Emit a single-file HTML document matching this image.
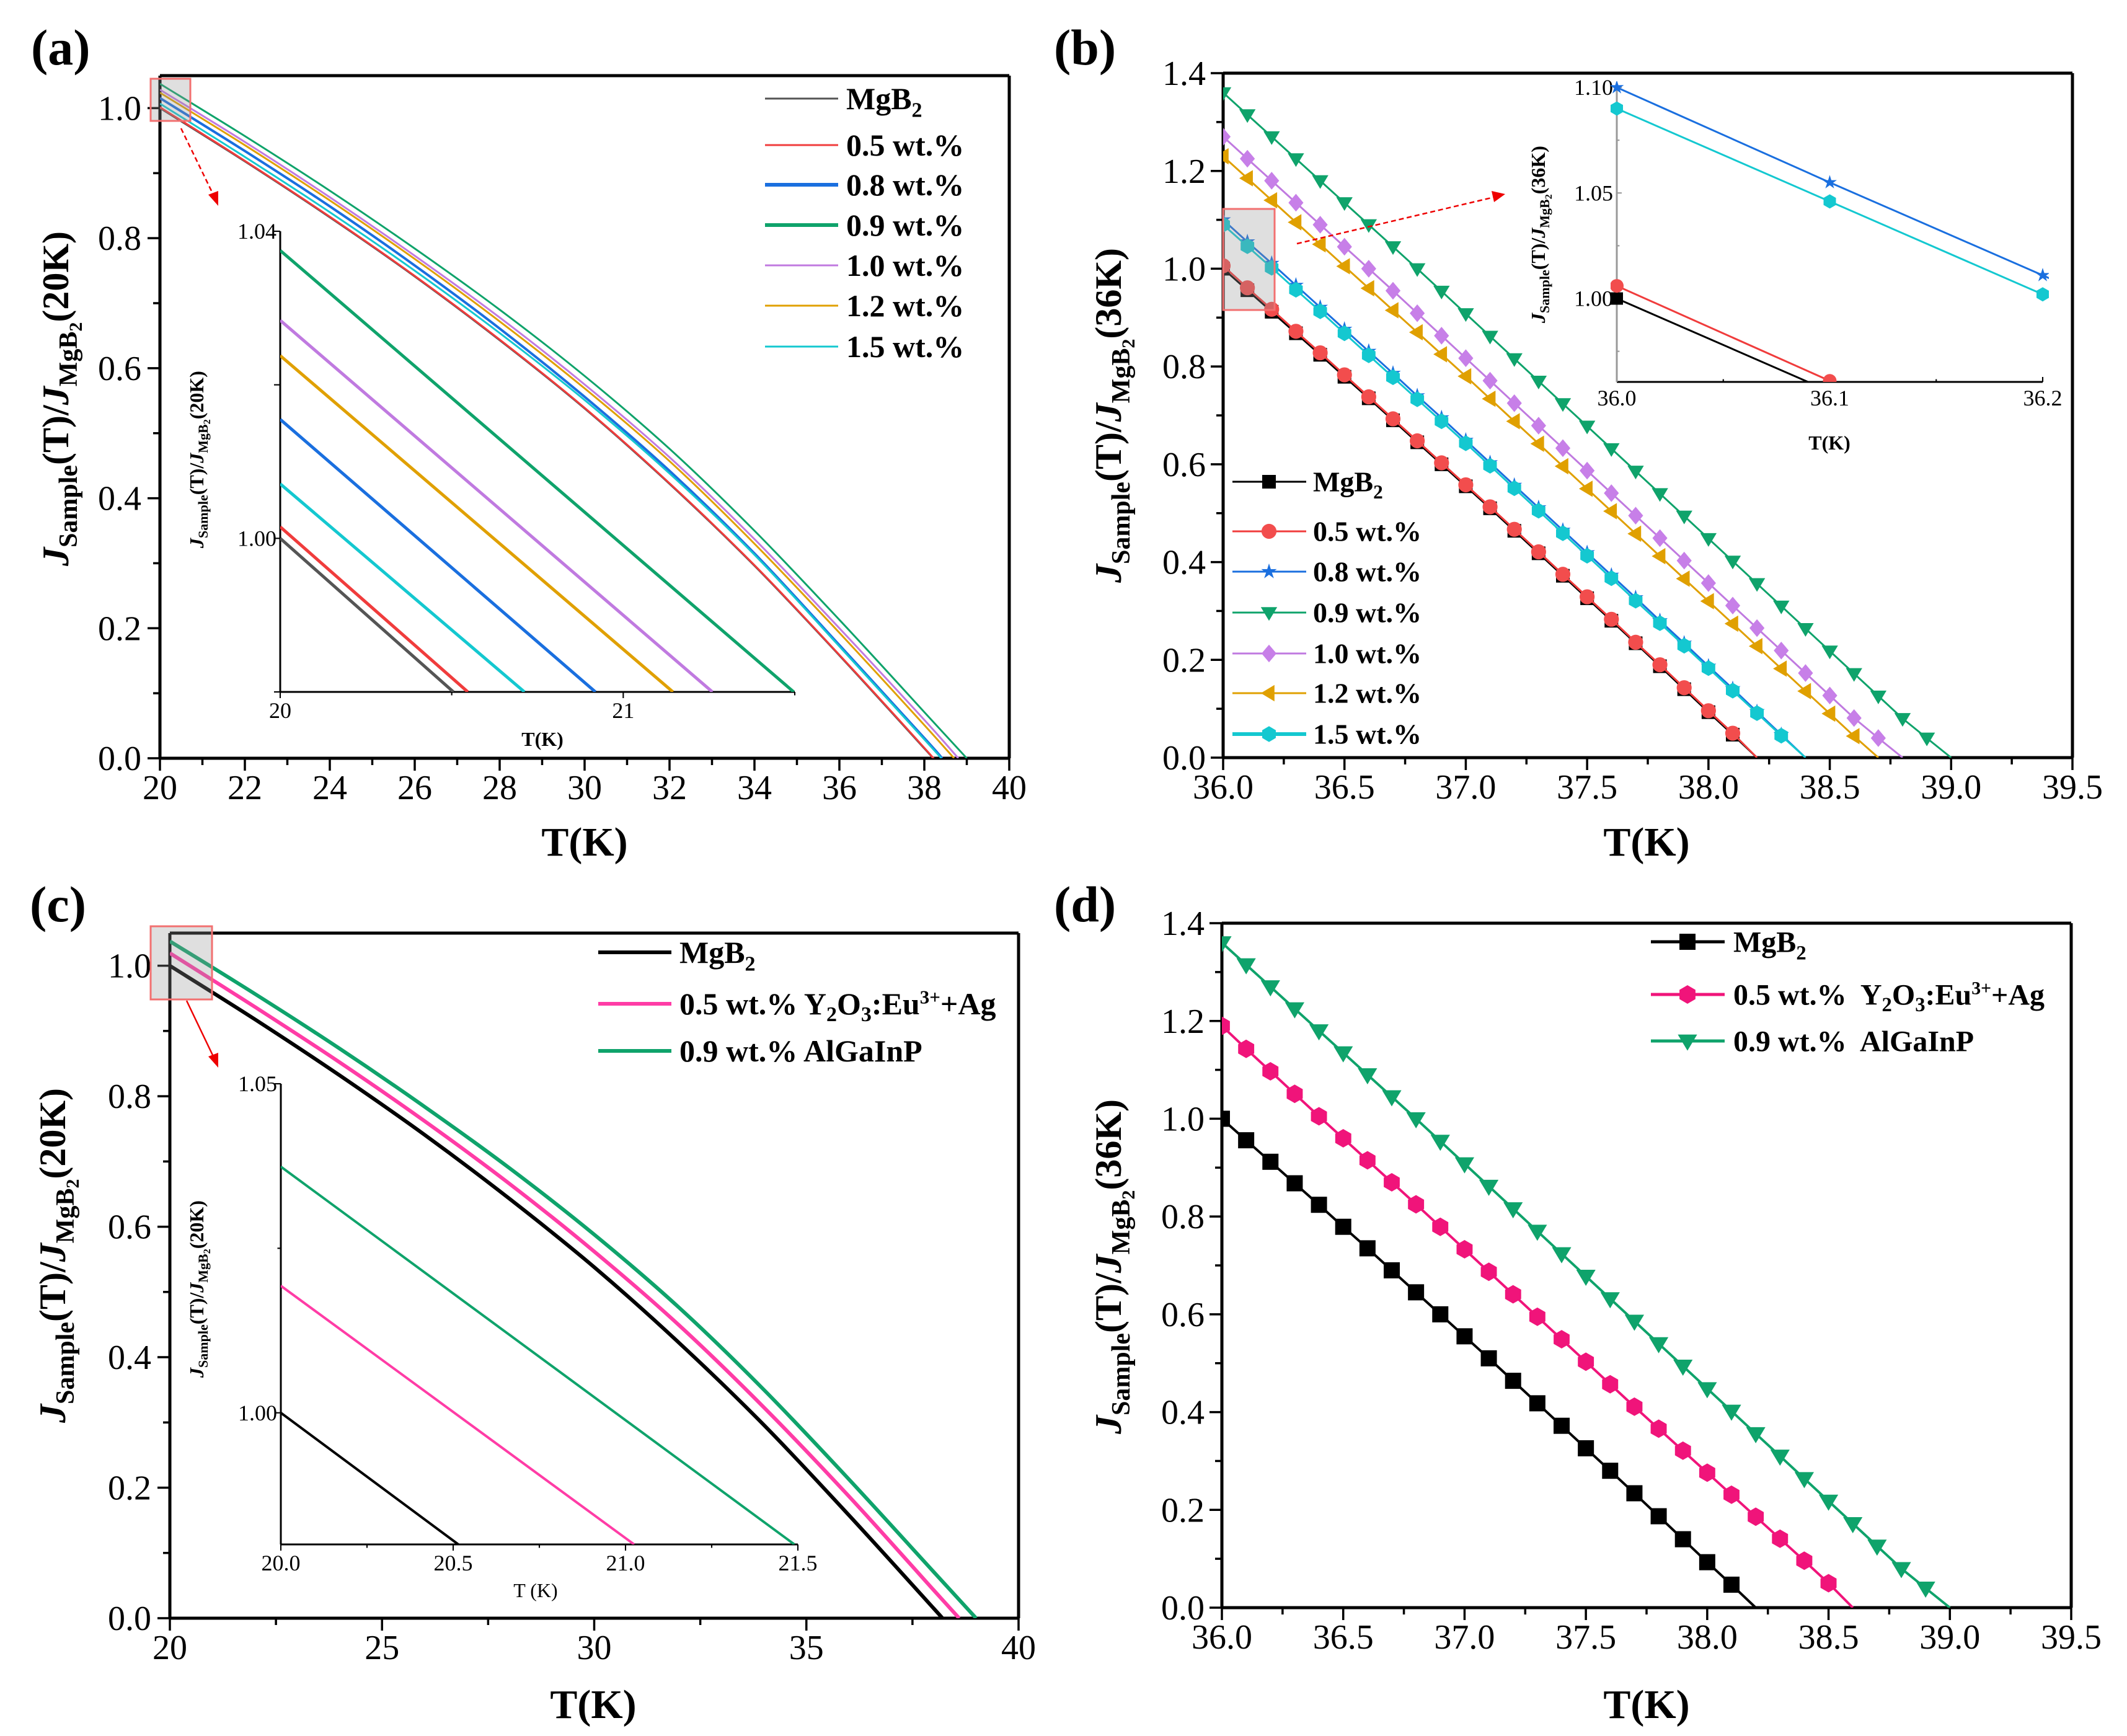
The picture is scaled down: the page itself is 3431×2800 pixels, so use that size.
<!DOCTYPE html>
<html><head><meta charset="utf-8">
<style>
html,body{margin:0;padding:0;background:#fff;}
svg{display:block;font-family:"Liberation Serif","Times New Roman",serif;}
</style></head>
<body>
<svg id="chart" xmlns="http://www.w3.org/2000/svg" width="3431" height="2800" viewBox="0 0 3431 2800" font-family="Liberation Serif, Times New Roman, serif">
<rect x="0" y="0" width="3431" height="2800" fill="#fff"/>
<defs>
<clipPath id="clipA"><rect x="258" y="122" width="1370" height="1101"/></clipPath>
<clipPath id="clipAi"><rect x="452" y="373" width="830" height="743"/></clipPath>
<clipPath id="clipB"><rect x="1973" y="118" width="1370" height="1104"/></clipPath>
<clipPath id="clipBi"><rect x="2598" y="131" width="707" height="485"/></clipPath>
<clipPath id="clipC"><rect x="274" y="1505" width="1369" height="1105"/></clipPath>
<clipPath id="clipCi"><rect x="453" y="1748" width="834" height="743"/></clipPath>
<clipPath id="clipD"><rect x="1971" y="1489" width="1370" height="1104"/></clipPath>
</defs>
<g font-weight="bold" font-size="82">
<text x="50" y="104">(a)</text>
<text x="1700" y="104">(b)</text>
<text x="48" y="1486">(c)</text>
<text x="1700" y="1486">(d)</text>
</g>
<g font-weight="bold" font-size="60">
<text transform="translate(110,643) rotate(-90)" text-anchor="middle"><tspan font-style="italic">J</tspan><tspan font-size="42" dy="14">Sample</tspan><tspan dy="-14">(T)/</tspan><tspan font-style="italic">J</tspan><tspan font-size="42" dy="14">MgB</tspan><tspan font-size="30" dy="8">2</tspan><tspan dy="-22">(20K)</tspan></text>
<text transform="translate(1808,670) rotate(-90)" text-anchor="middle"><tspan font-style="italic">J</tspan><tspan font-size="42" dy="14">Sample</tspan><tspan dy="-14">(T)/</tspan><tspan font-style="italic">J</tspan><tspan font-size="42" dy="14">MgB</tspan><tspan font-size="30" dy="8">2</tspan><tspan dy="-22">(36K)</tspan></text>
<text transform="translate(105,2025) rotate(-90)" text-anchor="middle"><tspan font-style="italic">J</tspan><tspan font-size="42" dy="14">Sample</tspan><tspan dy="-14">(T)/</tspan><tspan font-style="italic">J</tspan><tspan font-size="42" dy="14">MgB</tspan><tspan font-size="30" dy="8">2</tspan><tspan dy="-22">(20K)</tspan></text>
<text transform="translate(1808,2043) rotate(-90)" text-anchor="middle"><tspan font-style="italic">J</tspan><tspan font-size="42" dy="14">Sample</tspan><tspan dy="-14">(T)/</tspan><tspan font-style="italic">J</tspan><tspan font-size="42" dy="14">MgB</tspan><tspan font-size="30" dy="8">2</tspan><tspan dy="-22">(36K)</tspan></text>
</g>
<g font-weight="bold" font-size="32">
<text transform="translate(328,741) rotate(-90)" text-anchor="middle"><tspan font-style="italic">J</tspan><tspan font-size="22" dy="7">Sample</tspan><tspan dy="-7">(T)/</tspan><tspan font-style="italic">J</tspan><tspan font-size="22" dy="7">MgB</tspan><tspan font-size="16" dy="4">2</tspan><tspan dy="-11">(20K)</tspan></text>
<text transform="translate(2492,378) rotate(-90)" text-anchor="middle"><tspan font-style="italic">J</tspan><tspan font-size="22" dy="7">Sample</tspan><tspan dy="-7">(T)/</tspan><tspan font-style="italic">J</tspan><tspan font-size="22" dy="7">MgB</tspan><tspan font-size="16" dy="4">2</tspan><tspan dy="-11">(36K)</tspan></text>
<text transform="translate(328,2079) rotate(-90)" text-anchor="middle"><tspan font-style="italic">J</tspan><tspan font-size="22" dy="7">Sample</tspan><tspan dy="-7">(T)/</tspan><tspan font-style="italic">J</tspan><tspan font-size="22" dy="7">MgB</tspan><tspan font-size="16" dy="4">2</tspan><tspan dy="-11">(20K)</tspan></text>
<text x="875" y="1203" text-anchor="middle">T(K)</text>
<text x="2951" y="725" text-anchor="middle">T(K)</text>
<text x="864" y="2576" text-anchor="middle" font-weight="normal">T (K)</text>
</g>
<g font-weight="bold" font-size="66" text-anchor="middle">
<text x="943" y="1380">T(K)</text>
<text x="2656" y="1380">T(K)</text>
<text x="957" y="2771">T(K)</text>
<text x="2656" y="2771">T(K)</text>
</g>
</svg>
<script>
// ---------- Panel (a) data ----------
const aT = [20,22,24,26,28,30,32,34,36,38];
const aMgB2 = [1.0,0.918,0.832,0.741,0.643,0.538,0.422,0.296,0.158,0.015];
const a05 = [1.0015,0.919,0.833,0.742,0.644,0.539,0.423,0.297,0.159,0.016];
const a08 = [1.0155,0.934,0.849,0.758,0.661,0.556,0.442,0.315,0.174,0.031];
const a09 = [1.0375,0.957,0.873,0.784,0.690,0.588,0.476,0.350,0.213,0.071];
const a10 = [1.0284,0.948,0.863,0.773,0.678,0.575,0.463,0.337,0.200,0.059];
const a12 = [1.0238,0.943,0.858,0.768,0.672,0.569,0.457,0.330,0.193,0.051];
const a15 = [1.007,0.925,0.840,0.750,0.654,0.551,0.438,0.313,0.172,0.029];
const aTc = [38.2,38.2,38.42,39.0,38.8,38.7,38.4];
const aLabels = ['MgB2','0.5 wt.%','0.8 wt.%','0.9 wt.%','1.0 wt.%','1.2 wt.%','1.5 wt.%'];
const aInsetStart = [1.0,1.0015,1.0155,1.0375,1.0284,1.0238,1.0071];
const aInsetEndT = [20.505,20.547,20.919,21.497,21.26,21.145,20.712];
// ---------- Panel (b) data ----------
const bStartT = 36.0;
const bStep = 0.1;
const bMgB2 = [1.000,0.956,0.912,0.868,0.824,0.779,0.735,0.690,0.645,0.600,0.555,0.510,0.464,0.418,0.372,0.326,0.280,0.234,0.187,0.140,0.093,0.047,0.000];
const b05 = [1.006,0.961,0.917,0.872,0.828,0.783,0.738,0.693,0.648,0.603,0.558,0.513,0.467,0.421,0.375,0.329,0.283,0.236,0.190,0.143,0.096,0.050,0.000];
const b08 = [1.10,1.055,1.011,0.966,0.921,0.876,0.831,0.786,0.740,0.695,0.649,0.603,0.557,0.511,0.465,0.419,0.373,0.327,0.280,0.234,0.187,0.141,0.094,0.047,0.0];
const b09 = [1.360,1.315,1.270,1.225,1.180,1.135,1.090,1.045,1.000,0.954,0.908,0.862,0.816,0.770,0.724,0.678,0.632,0.586,0.540,0.494,0.448,0.402,0.356,0.310,0.264,0.218,0.172,0.126,0.080,0.040,0.0];
const b10 = [1.270,1.225,1.180,1.135,1.090,1.045,1.000,0.955,0.909,0.863,0.817,0.771,0.725,0.679,0.633,0.587,0.541,0.495,0.449,0.403,0.357,0.311,0.265,0.219,0.173,0.127,0.081,0.040,0.0];
const b12 = [1.230,1.185,1.140,1.095,1.050,1.005,0.960,0.915,0.870,0.825,0.780,0.734,0.688,0.642,0.596,0.550,0.504,0.458,0.412,0.366,0.320,0.274,0.228,0.182,0.136,0.090,0.044,0.0];
const b15 = [1.09,1.046,1.002,0.957,0.913,0.868,0.823,0.778,0.733,0.688,0.643,0.597,0.551,0.505,0.459,0.413,0.367,0.321,0.275,0.229,0.183,0.137,0.091,0.045,0.0];
// ---------- Panel (c) data ----------
const cT = [20,22,24,26,28,30,32,34,36,38];
const cMgB2 = [1.0,0.918,0.832,0.741,0.643,0.538,0.422,0.296,0.158,0.015];
const cY2O3 = [1.0193,0.937,0.852,0.762,0.666,0.562,0.449,0.323,0.187,0.043];
const cAlGaInP = [1.0375,0.957,0.873,0.784,0.690,0.588,0.476,0.350,0.213,0.071];
const cTc = [38.2,38.6,39.0];
const cInsetStart = [1.0,1.0193,1.0374];
const cInsetEndT = [20.515,21.025,21.49];
// ---------- Panel (d) data ----------
const dMgB2 = [1.000,0.956,0.912,0.868,0.824,0.779,0.735,0.690,0.645,0.600,0.555,0.510,0.464,0.418,0.372,0.326,0.280,0.234,0.187,0.140,0.093,0.047,0.000];
const dY2O3 = [1.190,1.143,1.097,1.051,1.005,0.960,0.915,0.870,0.825,0.779,0.733,0.687,0.641,0.595,0.549,0.503,0.457,0.411,0.366,0.321,0.276,0.231,0.186,0.141,0.096,0.050,0.0];
const dAlGaInP = [1.360,1.315,1.270,1.225,1.180,1.135,1.090,1.045,1.000,0.954,0.908,0.862,0.816,0.770,0.724,0.678,0.632,0.586,0.540,0.494,0.448,0.402,0.356,0.310,0.264,0.218,0.172,0.126,0.080,0.040,0.0];

const NS = 'http://www.w3.org/2000/svg';
const svg = document.getElementById('chart');
function mk(tag, attrs, parent) {
  const e = document.createElementNS(NS, tag);
  for (const k in attrs) e.setAttribute(k, attrs[k]);
  (parent || svg).appendChild(e);
  return e;
}
function scale(d0, d1, p0, p1) { return v => p0 + (v - d0) / (d1 - d0) * (p1 - p0); }

const colA = ['#555555','#f03c3c','#1a6fdf','#0fa36b','#c07ae0','#e0a000','#14c8d0'];
const colC = ['#000000','#ff3ca6','#0fa36b'];
const colD = ['#000000','#f0147a','#0fa36b'];

function isMult(v, step) { const k = v / step; return Math.abs(k - Math.round(k)) < 1e-6; }
function drawAxes(p, name) {
  const g = mk('g', {});
  
  
  const sx = scale(p.xmin, p.xmax, p.x0, p.x1), sy = scale(p.ymin, p.ymax, p.y1, p.y0);
  const sw = p.sw || 5;
  const dir = p.inward ? -1 : 1;
  const eps = 1e-7;
  let i0 = Math.ceil(p.xmin / p.xminor - eps);
  for (let i = i0; i * p.xminor <= p.xmax + eps; i++) {
    const v = i * p.xminor;
    const isMaj = isMult(v, p.xmajor);
    const L = isMaj ? p.tl : p.tl * 0.55;
    const x = sx(v);
    mk('line', {x1:x, y1:p.y1, x2:x, y2:p.y1 + dir * L, stroke:'#000', 'stroke-width':sw * 0.7}, g);
    if (isMaj) {
      const t = mk('text', {x:x, y:p.y1 + p.xlabOff, 'font-size':p.fs, 'text-anchor':'middle'}, g);
      t.textContent = v.toFixed(p.xdec);
      
      
    }
  }
  i0 = Math.ceil(p.ymin / p.yminor - eps);
  for (let i = i0; i * p.yminor <= p.ymax + eps; i++) {
    const v = i * p.yminor;
    const isMaj = isMult(v, p.ymajor);
    const L = isMaj ? p.tl : p.tl * 0.55;
    const y = sy(v);
    mk('line', {x1:p.x0, y1:y, x2:p.x0 - dir * L, y2:y, stroke:p.axcol || '#000', 'stroke-width':sw * 0.7}, g);
    if (isMaj && (!p.ylabSkip || !p.ylabSkip.some(s => Math.abs(s - v) < 1e-6))) {
      const t = mk('text', {x:p.x0 - p.ylabOff, y:y + p.fs * 0.34, 'font-size':p.fs, 'text-anchor':'end'}, g);
      t.textContent = v.toFixed(p.ydec);
      
      
    }
  }
  mk('line', {x1:p.x0, y1:p.y1, x2:p.x1, y2:p.y1, stroke:'#000', 'stroke-width':sw}, g);
  mk('line', {x1:p.x0, y1:p.y0, x2:p.x0, y2:p.y1, stroke:p.axcol || '#000', 'stroke-width':sw}, g);
  if (p.box) {
    mk('line', {x1:p.x0, y1:p.y0, x2:p.x1, y2:p.y0, stroke:'#000', 'stroke-width':sw}, g);
    mk('line', {x1:p.x1, y1:p.y0, x2:p.x1, y2:p.y1, stroke:'#000', 'stroke-width':sw}, g);
  }
  return {sx, sy};
}

function smoothPath(pts) {
  let d = 'M' + pts[0][0].toFixed(1) + ',' + pts[0][1].toFixed(1);
  for (let i = 0; i < pts.length - 1; i++) {
    const p0 = pts[Math.max(0, i - 1)], p1 = pts[i], p2 = pts[i + 1], p3 = pts[Math.min(pts.length - 1, i + 2)];
    const c1 = [p1[0] + (p2[0] - p0[0]) / 6, p1[1] + (p2[1] - p0[1]) / 6];
    const c2 = [p2[0] - (p3[0] - p1[0]) / 6, p2[1] - (p3[1] - p1[1]) / 6];
    d += ' C' + c1[0].toFixed(1) + ',' + c1[1].toFixed(1) + ' ' + c2[0].toFixed(1) + ',' + c2[1].toFixed(1) + ' ' + p2[0].toFixed(1) + ',' + p2[1].toFixed(1);
  }
  return d;
}

function marker(shape, x, y, r, color, parent) {
  let e;
  if (shape === 'square') e = mk('rect', {x:x - r, y:y - r, width:2 * r, height:2 * r, fill:color}, parent);
  else if (shape === 'circle') e = mk('circle', {cx:x, cy:y, r:r * 1.1, fill:color}, parent);
  else if (shape === 'hex') {
    let pts = [];
    for (let i = 0; i < 6; i++) { const a = Math.PI / 6 + i * Math.PI / 3; pts.push((x + r * 1.15 * Math.cos(a)).toFixed(1) + ',' + (y + r * 1.15 * Math.sin(a)).toFixed(1)); }
    e = mk('polygon', {points:pts.join(' '), fill:color}, parent);
  } else if (shape === 'star') {
    let pts = [];
    for (let i = 0; i < 10; i++) { const a = -Math.PI / 2 + i * Math.PI / 5; const rr = i % 2 ? r * 0.45 : r * 1.2; pts.push((x + rr * Math.cos(a)).toFixed(1) + ',' + (y + rr * Math.sin(a)).toFixed(1)); }
    e = mk('polygon', {points:pts.join(' '), fill:color}, parent);
  } else if (shape === 'tridown') {
    e = mk('polygon', {points:(x - r * 1.2) + ',' + (y - r * 0.8) + ' ' + (x + r * 1.2) + ',' + (y - r * 0.8) + ' ' + x + ',' + (y + r * 1.2), fill:color}, parent);
  } else if (shape === 'trileft') {
    e = mk('polygon', {points:(x + r * 0.8) + ',' + (y - r * 1.2) + ' ' + (x + r * 0.8) + ',' + (y + r * 1.2) + ' ' + (x - r * 1.2) + ',' + y, fill:color}, parent);
  } else if (shape === 'diamond') {
    e = mk('polygon', {points:x + ',' + (y - r * 1.3) + ' ' + (x + r * 1.1) + ',' + y + ' ' + x + ',' + (y + r * 1.3) + ' ' + (x - r * 1.1) + ',' + y, fill:color}, parent);
  }
  return e;
}

function legendText(g, x, y, label, fs) {
  const t = mk('text', {x:x, y:y + fs * 0.34, 'font-size':fs, 'font-weight':'bold'}, g);
  if (label === 'MgB2') {
    t.appendChild(document.createTextNode('MgB'));
    const s = mk('tspan', {'font-size':fs * 0.68, dy:fs * 0.25}, t); s.textContent = '2';
  } else if (label.indexOf('Y2O3') >= 0) {
    const parts = label.split('Y2O3:Eu3+');
    t.appendChild(document.createTextNode(parts[0] + 'Y'));
    let s = mk('tspan', {'font-size':fs * 0.68, dy:fs * 0.22}, t); s.textContent = '2';
    s = mk('tspan', {dy:-fs * 0.22}, t); s.textContent = 'O';
    s = mk('tspan', {'font-size':fs * 0.68, dy:fs * 0.22}, t); s.textContent = '3';
    s = mk('tspan', {dy:-fs * 0.22}, t); s.textContent = ':Eu';
    s = mk('tspan', {'font-size':fs * 0.62, dy:-fs * 0.35}, t); s.textContent = '3+';
    s = mk('tspan', {dy:fs * 0.35}, t); s.textContent = '+Ag';
  } else t.textContent = label;
  return t;
}

// ================= Panel (a) =================
(function () {
  const ax = drawAxes({x0:258, x1:1628, y0:122, y1:1223, xmin:20, xmax:40, ymin:0, ymax:1.05, xmajor:2, xminor:1, ymajor:0.2, yminor:0.1, tl:20, fs:56, xdec:0, ydec:1, xlabOff:66, ylabOff:30, box:true}, 'panel-a');
  const series = [aMgB2, a05, a08, a09, a10, a12, a15];
  const widths = [3, 3, 4, 3, 3, 3, 3];
  const g = mk('g', {'clip-path':'url(#clipA)'});
  
  
  series.forEach((s, i) => {
    const pts = s.map((v, j) => [ax.sx(aT[j]), ax.sy(v)]);
    pts.push([ax.sx(aTc[i]), ax.sy(0)]);
    const p = mk('path', {d:smoothPath(pts), fill:'none', stroke:colA[i], 'stroke-width':widths[i]}, g);
    
    
  });
  const zb = mk('rect', {x:243, y:127, width:64, height:68, fill:'rgba(150,150,150,0.3)', stroke:'#f27070', 'stroke-width':3});
  
  
  const ar = mk('line', {x1:292, y1:207, x2:346, y2:318, stroke:'#e00', 'stroke-width':2.5, 'stroke-dasharray':'8,5'});
  
  
  const ah = mk('polygon', {points:'352,332 336,314 352,308', fill:'#e00'});
  
  
  const lg = mk('g', {});
  
  
  const rows = [159, 234, 298, 363, 428, 493, 559];
  aLabels.forEach((lab, i) => {
    const e = mk('g', {}, lg);
    
    
    mk('line', {x1:1234, y1:rows[i], x2:1352, y2:rows[i], stroke:colA[i], 'stroke-width':i === 2 || i === 3 ? 6 : 3}, e);
    legendText(e, 1365, rows[i], lab, 50);
  });
  const ix = drawAxes({x0:452, x1:1282, y0:373, y1:1116, xmin:20, xmax:21.5, ymin:0.98, ymax:1.04, xmajor:1, xminor:0.5, ymajor:0.02, yminor:0.02, tl:10, sw:3, fs:36, xdec:0, ydec:2, xlabOff:42, ylabOff:6, ylabSkip:[0.98, 1.02]}, 'inset-a');
  const ig = mk('g', {'clip-path':'url(#clipAi)'});
  
  
  aInsetStart.forEach((v, i) => {
    const l = mk('line', {x1:ix.sx(20), y1:ix.sy(v), x2:ix.sx(aInsetEndT[i]), y2:ix.sy(0.98), stroke:colA[i], 'stroke-width':5}, ig);
    
    
  });
})();

// ================= Panel (b) =================
const bSeries = [bMgB2, b05, b08, b09, b10, b12, b15];
const bShapes = ['square', 'circle', 'star', 'tridown', 'diamond', 'trileft', 'hex'];
const bCols = ['#000000', '#f03c3c', '#1a6fdf', '#0fa36b', '#c07ae0', '#e0a000', '#14c8d0'];
const bMarkCols = ['#000000', '#f24d4d', '#1a6fdf', '#0fa36b', '#c77fe8', '#e0a000', '#14c8d0'];
function drawMarkerSeries(ax, arr, color, mcol, shape, r, lw, parent, nm) {
  const pts = arr.map((v, j) => [ax.sx(bStartT + bStep * j), ax.sy(v)]);
  const p = mk('polyline', {points:pts.map(q => q[0].toFixed(1) + ',' + q[1].toFixed(1)).join(' '), fill:'none', stroke:color, 'stroke-width':lw}, parent);
  
  
  arr.forEach((v, j) => {
    if (v <= 0) return;
    const m = marker(shape, pts[j][0], pts[j][1], r, mcol, parent);
    
    
  });
}
(function () {
  const ax = drawAxes({x0:1973, x1:3343, y0:118, y1:1222, xmin:36, xmax:39.5, ymin:0, ymax:1.4, xmajor:0.5, xminor:0.25, ymajor:0.2, yminor:0.1, tl:20, fs:56, xdec:1, ydec:1, xlabOff:66, ylabOff:28, box:true}, 'panel-b');
  const g = mk('g', {'clip-path':'url(#clipB)'});
  
  
  bSeries.forEach((s, i) => drawMarkerSeries(ax, s, bCols[i], bMarkCols[i], bShapes[i], 11, 3, g, 'series-b-' + i));
  const zb = mk('rect', {x:1973, y:337, width:83, height:163, fill:'rgba(150,150,150,0.3)', stroke:'#f27070', 'stroke-width':3});
  
  
  const ar = mk('line', {x1:2092, y1:393, x2:2410, y2:318, stroke:'#e00', 'stroke-width':2.5, 'stroke-dasharray':'8,5'});
  
  
  const ah = mk('polygon', {points:'2428,313 2406,308 2410,326', fill:'#e00'});
  
  
  const lg = mk('g', {});
  
  
  const rows = [777, 857, 922, 988, 1054, 1118, 1184];
  aLabels.forEach((lab, i) => {
    const e = mk('g', {}, lg);
    
    
    mk('line', {x1:1988, y1:rows[i], x2:2107, y2:rows[i], stroke:bCols[i], 'stroke-width':i === 6 ? 6 : 3}, e);
    marker(bShapes[i], 2047, rows[i], 11, bMarkCols[i], e);
    legendText(e, 2118, rows[i], lab, 46);
  });
  const ix = drawAxes({x0:2608, x1:3295, y0:141, y1:616, xmin:36.0, xmax:36.2, ymin:0.9605, ymax:1.1, xmajor:0.1, xminor:0.05, ymajor:0.05, yminor:0.025, tl:8, sw:3, fs:36, xdec:1, ydec:2, xlabOff:38, ylabOff:6, axcol:'#999', inward:true}, 'inset-b');
  const ig = mk('g', {'clip-path':'url(#clipBi)'});
  
  
  bSeries.forEach((s, i) => drawMarkerSeries(ix, s.slice(0, 4), bCols[i], bMarkCols[i], bShapes[i], 10, 3, ig, 'inset-b-' + i));
})();

// ================= Panel (c) =================
(function () {
  const ax = drawAxes({x0:274, x1:1643, y0:1505, y1:2610, xmin:20, xmax:40, ymin:0, ymax:1.05, xmajor:5, xminor:2.5, ymajor:0.2, yminor:0.1, tl:20, fs:56, xdec:0, ydec:1, xlabOff:66, ylabOff:30, box:true}, 'panel-c');
  const series = [cMgB2, cY2O3, cAlGaInP];
  const labels = ['MgB2', '0.5 wt.% Y2O3:Eu3++Ag', '0.9 wt.% AlGaInP'];
  const g = mk('g', {'clip-path':'url(#clipC)'});
  
  
  series.forEach((s, i) => {
    const pts = s.map((v, j) => [ax.sx(cT[j]), ax.sy(v)]);
    pts.push([ax.sx(cTc[i]), ax.sy(0)]);
    const p = mk('path', {d:smoothPath(pts), fill:'none', stroke:colC[i], 'stroke-width':6}, g);
    
    
  });
  const zb = mk('rect', {x:243, y:1494, width:99, height:118, fill:'rgba(150,150,150,0.3)', stroke:'#f27070', 'stroke-width':3});
  
  
  const ar = mk('line', {x1:301, y1:1614, x2:346, y2:1708, stroke:'#e00', 'stroke-width':2.5});
  
  
  const ah = mk('polygon', {points:'352,1722 336,1704 352,1698', fill:'#e00'});
  
  
  const lg = mk('g', {});
  
  
  const rows = [1536, 1619, 1695];
  labels.forEach((lab, i) => {
    const e = mk('g', {}, lg);
    
    
    mk('line', {x1:965, y1:rows[i], x2:1083, y2:rows[i], stroke:colC[i], 'stroke-width':6}, e);
    legendText(e, 1096, rows[i], lab, 50);
  });
  const ix = drawAxes({x0:453, x1:1287, y0:1748, y1:2491, xmin:20, xmax:21.5, ymin:0.98, ymax:1.05, xmajor:0.5, xminor:0.25, ymajor:0.05, yminor:0.025, tl:10, sw:3, fs:36, xdec:1, ydec:2, xlabOff:42, ylabOff:6}, 'inset-c');
  const ig = mk('g', {'clip-path':'url(#clipCi)'});
  
  
  cInsetStart.forEach((v, i) => {
    const l = mk('line', {x1:ix.sx(20), y1:ix.sy(v), x2:ix.sx(cInsetEndT[i]), y2:ix.sy(0.98), stroke:colC[i], 'stroke-width':4}, ig);
    
    
  });
})();

// ================= Panel (d) =================
(function () {
  const ax = drawAxes({x0:1971, x1:3341, y0:1489, y1:2593, xmin:36, xmax:39.5, ymin:0, ymax:1.4, xmajor:0.5, xminor:0.25, ymajor:0.2, yminor:0.1, tl:20, fs:56, xdec:1, ydec:1, xlabOff:66, ylabOff:28, box:true}, 'panel-d');
  const series = [dMgB2, dY2O3, dAlGaInP];
  const shapes = ['square', 'hex', 'tridown'];
  const labels = ['MgB2', '0.5 wt.%  Y2O3:Eu3++Ag', '0.9 wt.%  AlGaInP'];
  const g = mk('g', {'clip-path':'url(#clipD)'});
  
  
  series.forEach((s, i) => drawMarkerSeries(ax, s, colD[i], colD[i], shapes[i], 13, 4, g, 'series-d-' + i));
  const lg = mk('g', {});
  
  
  const rows = [1519, 1604, 1679];
  labels.forEach((lab, i) => {
    const e = mk('g', {}, lg);
    
    
    mk('line', {x1:2663, y1:rows[i], x2:2782, y2:rows[i], stroke:colD[i], 'stroke-width':5}, e);
    marker(shapes[i], 2722, rows[i], 13, colD[i], e);
    const t = legendText(e, 2796, rows[i], lab, 48);
    t.setAttribute('xml:space', 'preserve');
    t.style.whiteSpace = 'pre';
  });
})();
</script>
</body></html>
